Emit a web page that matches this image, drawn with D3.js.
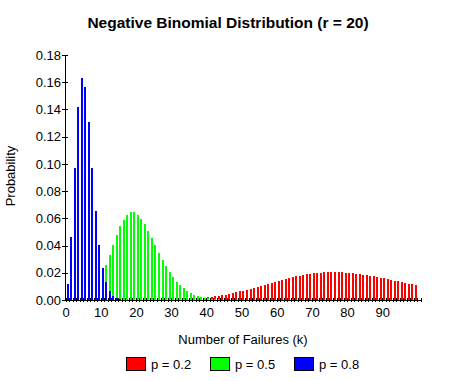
<!DOCTYPE html>
<html><head><meta charset="utf-8">
<script src="https://cdn.jsdelivr.net/npm/d3@7"></script>
<style>
body{margin:0;background:#fff;}
svg{display:block;}
text{font-family:"Liberation Sans",Arial,sans-serif;fill:#000;}
</style></head>
<body>
<svg id="chart" width="458" height="381"></svg>
<script>
// k = 0,1,2,... (index = number of failures)
const seriesNames = ["p = 0.2", "p = 0.5", "p = 0.8"];
const seriesColors = ["#ff0000", "#00ff00", "#0000ff"];
const probP02 = [
  0,0,0,0,0,0,0,0,0,0,0,0,0,0,0,0,0,0,0,0,
  0.0000084,0.0000128,0.0000190,0.0000278,0.0000398,0.0000561,0.0000777,0.000106,0.000142,0.000188,
  0.000245,0.000316,0.000403,0.000508,0.000633,0.000782,0.000955,0.001157,0.001388,0.001651,
  0.001948,0.002280,0.002649,0.003056,0.003501,0.003983,0.004503,0.005059,0.005649,0.006271,
  0.006923,0.007602,0.008304,0.009025,0.009760,0.010505,0.011255,0.012005,0.012750,0.013485,
  0.014204,0.014902,0.015575,0.016218,0.016826,0.017396,0.017923,0.018404,0.018837,0.019219,
  0.019549,0.019824,0.020044,0.020209,0.020318,0.020372,0.020372,0.020319,0.020215,0.020061,
  0.019860,0.019615,0.019328,0.019002,0.018640,0.018245,0.017821,0.017370,0.016896,0.016403,
  0.015893,0.015369,0.014834,0.014292,0.013745,0.013195,0.012645,0.012098,0.011555,0.011018
];
const probP05 = [
  0.00000095,0.0000095,0.0000501,0.000184,0.000528,0.001267,0.002639,0.004901,0.008270,0.012865,
  0.018655,0.025438,0.032858,0.040440,0.047662,0.054017,0.059081,0.062556,0.064294,0.064294,
  0.062687,0.059702,0.055631,0.050794,0.045503,0.040043,0.034653,0.029519,0.024775,0.020503,
  0.016744,0.013503,0.010760,0.008478,0.006608,0.005097,0.003894,0.002947,0.002210,0.001643,
  0.001212,0.000887,0.000644,0.000464,0.000332,0.000236,0.000167,0.000117,0.0000818,0.0000568,
  0.0000392
];
const probP08 = [
  0.011529,0.046117,0.096846,0.142041,0.163347,0.156813,0.130678,0.097075,0.065526,0.040772,
  0.023648,0.012899,0.006664,0.003281,0.001547,0.000701,0.000307,0.000130,0.0000534,0.0000214,
  0.0000083
];
const xTicks = d3.range(0, 102);
const xLabels = [0,10,20,30,40,50,60,70,80,90];
const yTicks = [0,0.02,0.04,0.06,0.08,0.10,0.12,0.14,0.16,0.18];
const titleText = "Negative Binomial Distribution (r = 20)";
const xTitle = "Number of Failures (k)";
const yTitle = "Probability";

const series = [probP02, probP05, probP08];

const svg = d3.select("#chart");
const x = d3.scaleLinear().domain([0, 101]).range([65.5, 421]);
const y = d3.scaleLinear().domain([0, 0.18]).range([300, 55]);

// bars
series.forEach((vals, si) => {
  svg.append("g").selectAll("rect").data(vals.map((v,k)=>({k,v})).filter(d=>y(0)-y(d.v) >= 0.5))
    .join("rect")
    .attr("shape-rendering","crispEdges")
    .attr("x", d => Math.round(x(d.k)) + 1)
    .attr("width", 2)
    .attr("y", d => Math.round(y(d.v)))
    .attr("height", d => 300 - Math.round(y(d.v)))
    .attr("fill", seriesColors[si]);
});

// x axis
const gx = svg.append("g").attr("transform","translate(0,300)")
  .call(d3.axisBottom(x).tickValues(xTicks).tickSizeOuter(0).tickSizeInner(2).tickPadding(3)
    .tickFormat(d => xLabels.includes(d) ? d : ""));
gx.select(".domain").attr("stroke","#000").attr("shape-rendering","crispEdges");
gx.selectAll(".tick line").attr("y1",-2).attr("y2",2).attr("stroke","#000").attr("shape-rendering","crispEdges");
gx.selectAll(".tick text").attr("font-size",13).attr("font-family","Liberation Sans, Arial, sans-serif").attr("dy","0.95em");

// y axis
const gy = svg.append("g").attr("transform","translate(65,0)")
  .call(d3.axisLeft(y).tickValues(yTicks).tickSizeOuter(0).tickSizeInner(3).tickPadding(1)
    .tickFormat(d3.format(".2f")));
gy.select(".domain").attr("stroke","#000").attr("shape-rendering","crispEdges");
gy.selectAll(".tick line").attr("x1",-3).attr("x2",3).attr("stroke","#000").attr("shape-rendering","crispEdges");
gy.selectAll(".tick text").attr("font-size",13).attr("font-family","Liberation Sans, Arial, sans-serif");

// titles
svg.append("text").attr("x",228).attr("y",28).attr("text-anchor","middle")
  .attr("font-size",15.5).attr("font-weight","bold").text(titleText);
svg.append("text").attr("x",243).attr("y",344).attr("text-anchor","middle")
  .attr("font-size",13).text(xTitle);
svg.append("text").attr("transform","translate(15,176) rotate(-90)").attr("text-anchor","middle")
  .attr("font-size",13).text(yTitle);

// legend
const leg = svg.append("g");
seriesNames.forEach((name, i) => {
  const lx = 126 + i*84;
  leg.append("rect").attr("x", lx+0.5).attr("y", 357.5).attr("width", 19).attr("height", 13)
    .attr("fill", seriesColors[i]).attr("stroke","#000").attr("stroke-width",1);
  leg.append("text").attr("x", lx+25).attr("y", 369).attr("font-size",13).text(name);
});
</script>
</body></html>
